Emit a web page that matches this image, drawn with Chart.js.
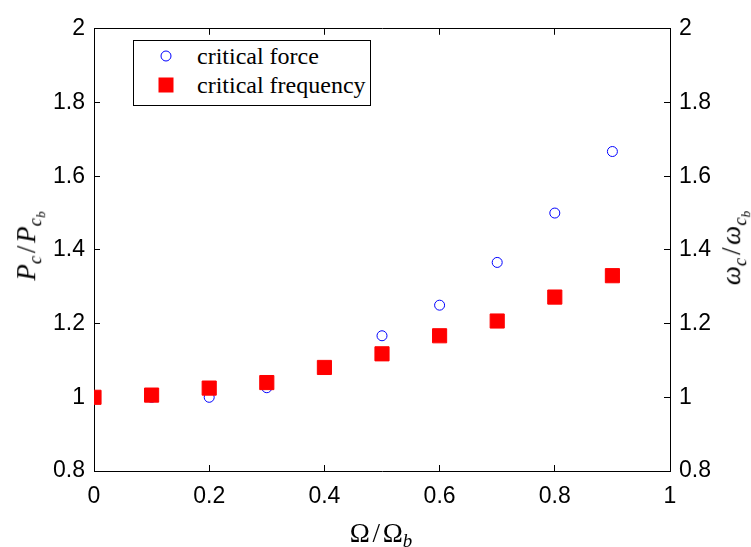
<!DOCTYPE html>
<html>
<head>
<meta charset="utf-8">
<script src="https://cdn.jsdelivr.net/npm/chart.js@4.4.0/dist/chart.umd.min.js"></script>
<style>
    body { margin: 0; background: #fff; }
    #wrap { position: relative; width: 751px; height: 547px; overflow: hidden; }
    .math { position: absolute; width: max-content; font-family: "Liberation Serif", "DejaVu Serif", serif; color: #000; white-space: nowrap; line-height: 1; }
    .math i { font-style: italic; }
    .math sub { font-size: 0.7em; vertical-align: -0.3em; line-height: 0; }
    .rot { transform: translate(-50%, -50%) rotate(-90deg); }
    #xlab { transform: translate(-50%, -50%); font-size: 27px; }
    .slash { margin: 0 0.1em; }
    #legend { position: absolute; left: 133px; top: 40px; width: 238px; height: 66px; border: 1px solid #000; box-sizing: border-box; background: #fff;
        font-family: "Liberation Serif", "DejaVu Serif", serif; font-size: 24px; }
    .entry { position: absolute; left: 63px; line-height: 1; transform: translateY(-50%); white-space: nowrap; }
    .marker { position: absolute; transform: translate(-50%, -50%); box-sizing: border-box; }
</style>
</head>
<body>
<div id="wrap">
    <canvas id="chart"></canvas>
    <div class="math rot" style="left:27px; top:246px; font-size:27px;"><i>P</i><sub><i>c</i></sub><span class="slash">/</span><i>P</i><sub><i>c</i><sub><i>b</i></sub></sub></div>
    <div class="math rot" style="left:732px; top:248px; font-size:27px;"><i>ω</i><sub><i>c</i></sub><span class="slash">/</span><i>ω</i><sub><i>c</i><sub><i>b</i></sub></sub></div>
    <div class="math" id="xlab" style="left:381px; top:533px;">Ω<span class="slash">/</span>Ω<sub><i>b</i></sub></div>
    <div id="legend">
        <div class="marker" style="left:32px; top:15px; width:11px; height:11px; border:1px solid #0000ff; border-radius:50%;"></div>
        <div class="entry" style="top:15px;">critical force</div>
        <div class="marker" style="left:32px; top:44px; width:15px; height:15px; background:#ff0000;"></div>
        <div class="entry" style="top:44px;">critical frequency</div>
    </div>
</div>
<script>
const omegaRatio = [0, 0.1, 0.2, 0.3, 0.4, 0.5, 0.6, 0.7, 0.8, 0.9];
const criticalForce = [1.0, 1.0, 1.0, 1.026, 1.083, 1.167, 1.25, 1.366, 1.5, 1.667];
const criticalFrequency = [1.0, 1.006, 1.025, 1.04, 1.081, 1.118, 1.167, 1.207, 1.272, 1.33];

const xTicks = [0, 0.2, 0.4, 0.6, 0.8, 1];
const xTickLabels = ['0', '0.2', '0.4', '0.6', '0.8', '1'];
const yTicks = [0.8, 1, 1.2, 1.4, 1.6, 1.8, 2];
const yTickLabels = ['0.8', '1', '1.2', '1.4', '1.6', '1.8', '2'];

const tickFont = { family: '"Liberation Sans", Arial, sans-serif', size: 23 };

const fixedSize = (prop, size) => scale => { scale[prop] = size; };

const axisBase = (ticks, labels, extra) => Object.assign({
    afterBuildTicks: scale => { scale.ticks = ticks.map(v => ({ value: v })); },
    grid: { drawOnChartArea: false, drawTicks: true, tickLength: -6, color: '#000', lineWidth: 1 },
    border: { display: true, color: '#000', width: 1 },
}, extra);

new Chart(document.getElementById('chart'), {
    type: 'scatter',
    data: {
        datasets: [
            {
                label: 'critical frequency',
                data: omegaRatio.map((x, i) => ({ x, y: criticalFrequency[i] })),
                pointStyle: 'rect',
                pointRadius: 10,
                backgroundColor: '#ff0000',
                borderColor: '#ff0000',
                borderWidth: 1,
                order: 0
            },
            {
                label: 'critical force',
                data: omegaRatio.map((x, i) => ({ x, y: criticalForce[i] })),
                pointStyle: 'circle',
                pointRadius: 5,
                backgroundColor: 'rgba(0,0,0,0)',
                borderColor: '#0000ff',
                borderWidth: 1,
                order: 1
            }
        ]
    },
    options: {
        responsive: true,
        maintainAspectRatio: false,
        animation: false,
        events: [],
        layout: { padding: { top: 22, left: 0, right: 0, bottom: 0 } },
        plugins: { legend: { display: false }, tooltip: { enabled: false } },
        scales: {
            x: axisBase(xTicks, xTickLabels, {
                type: 'linear', position: 'bottom', min: 0, max: 1,
                afterFit: fixedSize('height', 76),
                ticks: { font: tickFont, color: '#000', padding: 18, maxRotation: 0,
                    callback: (v, i) => xTickLabels[i] }
            }),
            x2: axisBase(xTicks, xTickLabels, {
                type: 'linear', position: 'top', min: 0, max: 1,
                afterFit: fixedSize('height', 0),
                ticks: { display: false }
            }),
            y: axisBase(yTicks, yTickLabels, {
                type: 'linear', position: 'left', min: 0.8, max: 2,
                afterFit: fixedSize('width', 94),
                ticks: { font: tickFont, color: '#000', padding: 15,
                    callback: (v, i) => yTickLabels[i] }
            }),
            y2: axisBase(yTicks, yTickLabels, {
                type: 'linear', position: 'right', min: 0.8, max: 2,
                afterFit: fixedSize('width', 81),
                ticks: { font: tickFont, color: '#000', padding: 15,
                    callback: (v, i) => yTickLabels[i] }
            })
        }
    }
});
</script>
</body>
</html>
